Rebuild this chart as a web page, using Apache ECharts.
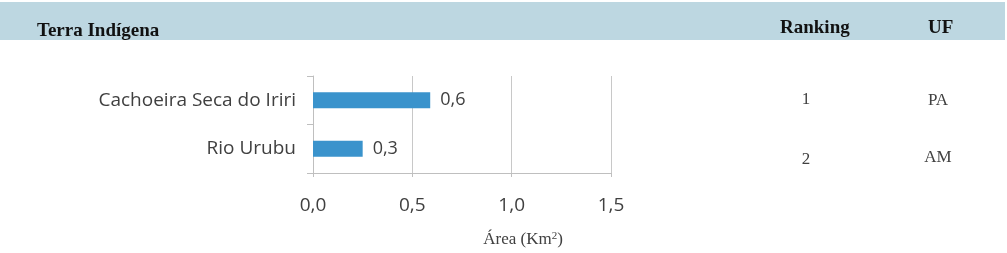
<!DOCTYPE html>
<html><head><meta charset="utf-8">
<script src="https://cdn.jsdelivr.net/npm/echarts@6/dist/echarts.min.js"></script>
<style>html,body{margin:0;padding:0;background:#fff}#c{width:1007px;height:253px}</style>
</head><body><div id="c"></div>
<script>
const categories = ['Cachoeira Seca do Iriri', 'Rio Urubu'];
const areaValues = [0.59, 0.25];
const rankings = ['1', '2'];
const ufs = ['PA', 'AM'];
const xTicks = [0, 0.5, 1.0, 1.5];
const headers = ['Terra Indígena', 'Ranking', 'UF'];

const fmt = v => v.toFixed(1).replace('.', ',');
const chart = echarts.init(document.getElementById('c'));
const rankY = [100, 160];
const ufY = [101, 158];
chart.setOption({
  animation: false,
  backgroundColor: '#fff',
  grid: { left: 313, right: 396, top: 76, height: 97 },
  xAxis: {
    type: 'value', min: xTicks[0], max: xTicks[xTicks.length - 1], interval: 0.5,
    axisLine: { show: true, lineStyle: { color: '#bfbfbf' } },
    axisTick: { show: true, length: 4, lineStyle: { color: '#bfbfbf' } },
    splitLine: { show: true, lineStyle: { color: '#c8c8c8' } },
    axisLabel: { formatter: fmt, margin: 23, color: '#404040', fontFamily: 'Open Sans', fontSize: 19 }
  },
  yAxis: {
    type: 'category', data: categories, inverse: true,
    axisLine: { show: true, lineStyle: { color: '#bfbfbf' } },
    axisTick: { show: true, length: 6, lineStyle: { color: '#bfbfbf' } },
    axisLabel: { margin: 17, color: '#404040', fontFamily: 'Open Sans', fontSize: 19 }
  },
  series: [{
    type: 'bar', data: areaValues, barWidth: 16,
    itemStyle: { color: '#3a93cc' },
    label: { show: true, position: 'right', distance: 10, formatter: p => fmt(p.value),
      color: '#404040', fontFamily: 'Open Sans', fontSize: 18 }
  }],
  graphic: [
    { type: 'rect', left: 0, top: 2, shape: { width: 1005, height: 38 }, style: { fill: '#bdd7e1' } },
    { type: 'text', x: 37, y: 31, style: { text: headers[0], fontFamily: 'Liberation Serif', fontWeight: 'bold', fontSize: 19, fill: '#111', verticalAlign: 'middle' } },
    { type: 'text', x: 780, y: 28, style: { text: headers[1], fontFamily: 'Liberation Serif', fontWeight: 'bold', fontSize: 19, fill: '#111', verticalAlign: 'middle' } },
    { type: 'text', x: 928, y: 28, style: { text: headers[2], fontFamily: 'Liberation Serif', fontWeight: 'bold', fontSize: 19, fill: '#111', verticalAlign: 'middle' } },
    ...rankings.map((r, i) => ({ type: 'text', x: 806, y: rankY[i], style: { text: r, fontFamily: 'Liberation Serif', fontSize: 17, fill: '#404040', align: 'center', verticalAlign: 'middle' } })),
    ...ufs.map((u, i) => ({ type: 'text', x: 938, y: ufY[i], style: { text: u, fontFamily: 'Liberation Serif', fontSize: 17, fill: '#404040', align: 'center', verticalAlign: 'middle' } })),
    { type: 'text', x: 523, y: 240, style: { rich: { a: { fontFamily: 'Liberation Serif', fontSize: 17, fill: '#404040' }, s: { fontFamily: 'Liberation Serif', fontSize: 11, fill: '#404040', verticalAlign: 'top', padding: [0, 0, 8, 0] } }, text: '{a|Área (Km}{s|2}{a|)}', align: 'center', verticalAlign: 'middle' } }
  ]
});
</script></body></html>
